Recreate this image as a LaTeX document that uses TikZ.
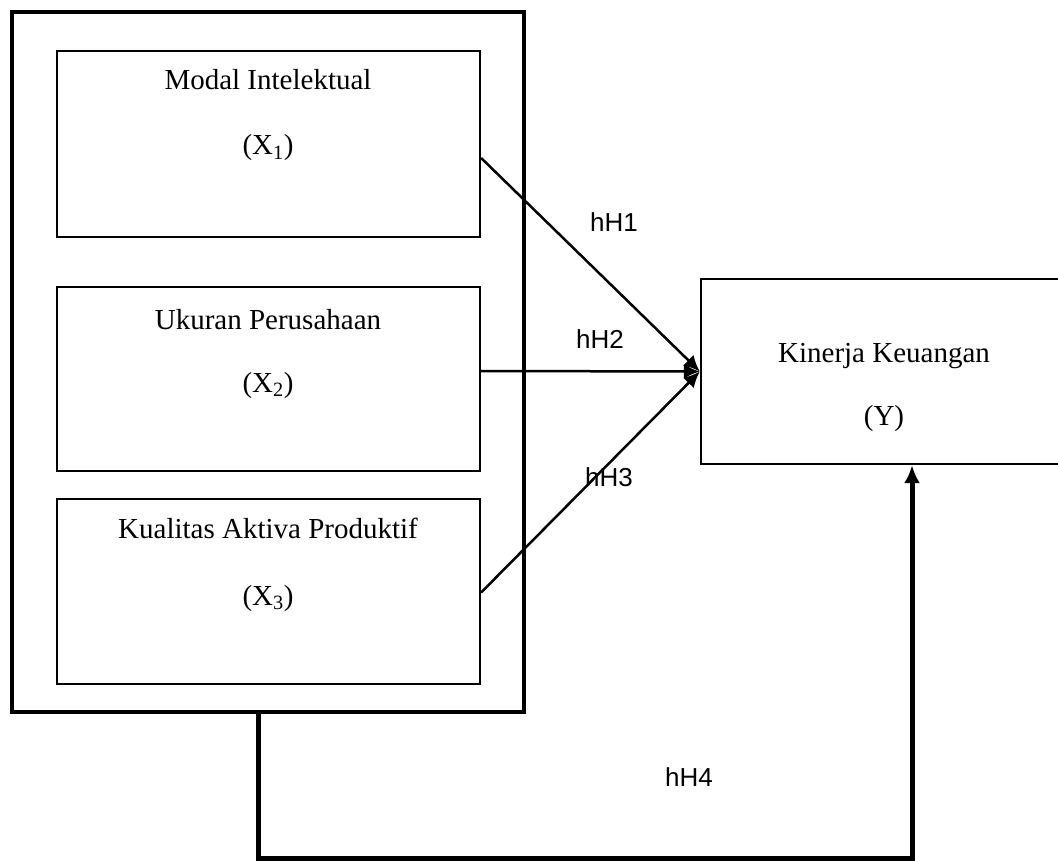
\documentclass[tikz,border=0pt]{standalone}
\usepackage{fontspec}
\setmainfont{Liberation Serif}
\newfontfamily\hypfont{Liberation Sans}
\usetikzlibrary{arrows.meta,calc}
\tikzset{
    block/.style = {draw, rectangle, line width=2.3pt, inner sep=0pt,
        minimum width=423pt, minimum height=185pt},
    frame/.style = {draw, rectangle, line width=4.5pt, inner sep=0pt},
    vartext/.style = {font=\fontsize{29}{34}\selectfont, anchor=base, inner sep=0pt},
    hyp/.style = {font=\hypfont\fontsize{26}{30}\selectfont, anchor=base, inner sep=0pt},
    arrow/.style = {draw, line width=2.5pt, -{Latex[length=16pt,width=15pt]}},
    feed/.style = {draw, line width=5pt, -{Latex[length=18pt,width=16pt]}}
}
\begin{document}
\begin{tikzpicture}[x=1pt, y=-1pt]
        \useasboundingbox (0,0) rectangle (1058,861);
        \node [frame, minimum width=512pt, minimum height=700pt] (outer) at (268,362) {};
        \node [block, minimum height=186pt] (x1) at (268.5,144) {};
        \node [vartext] (x1name) at (268,90) {Modal Intelektual};
        \node [vartext] (x1sym) at (268,155) {(X\textsubscript{1})};
        \node [block, minimum height=184pt] (x2) at (268.5,379) {};
        \node [vartext] (x2name) at (268,329) {Ukuran Perusahaan};
        \node [vartext] (x2sym) at (268,392) {(X\textsubscript{2})};
        \node [block] (x3) at (268.5,591.5) {};
        \node [vartext] (x3name) at (268,538) {Kualitas Aktiva Produktif};
        \node [vartext] (x3sym) at (268,605) {(X\textsubscript{3})};
        % dependent variable, right side runs off the page
        \node [block, minimum width=379pt] (kin) at (890.5,371.5) {};
        \node [vartext] (yname) at (884,362) {Kinerja Keuangan};
        \node [vartext] (ysym) at (884,425) {(Y)};
        \draw [arrow] ([yshift=-14pt]x1.east) -- (kin.west);
        \draw [arrow] ([yshift=8pt]x2.east) -- (kin.west);
        \draw [arrow] ([yshift=-1pt]x3.east) -- (kin.west);
        \node [hyp] (h1) at (614,232) {hH1};
        \node [hyp] (h2) at (600,348) {hH2};
        \node [hyp] (h3) at (609,486) {hH3};
        \node [hyp] (h4) at (689,786) {hH4};
        \coordinate (fbl) at (258,858);
        \coordinate (fbr) at (912,858);
        \draw [feed] (outer.south -| fbl) -- (fbl) -- (fbr) -- (kin.south -| fbr);
\end{tikzpicture}
\end{document}
